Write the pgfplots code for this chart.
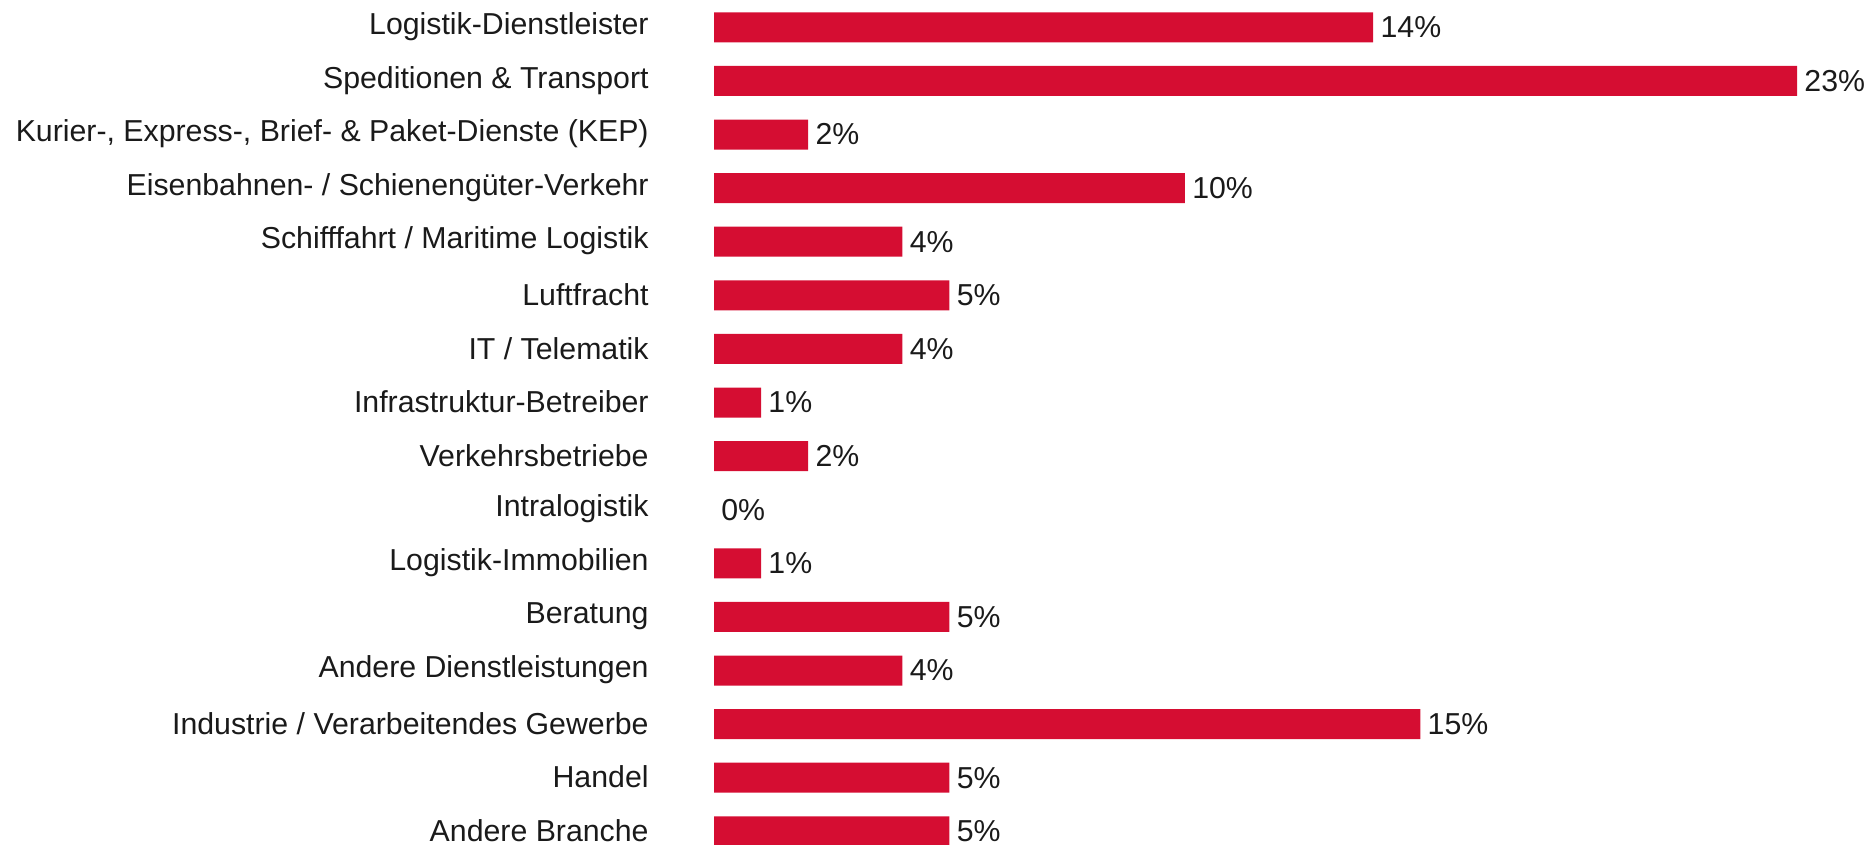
\documentclass[border=0pt]{standalone}
\usepackage{pgfplots}
\pgfplotsset{compat=1.18}
\usepackage{fontspec}
\setmainfont{Liberation Sans}
\definecolor{barred}{HTML}{D50D32}
\definecolor{txt}{HTML}{1A1A1A}
\begin{document}
\begin{tikzpicture}
\useasboundingbox (0,0) rectangle (932.5bp,-422.5bp);
\clip (0,0) rectangle (932.5bp,-422.5bp);
\begin{axis}[
  at={(357bp,-0.25bp)}, anchor=north west,
  scale only axis,
  width=541.5bp, height=428.8bp,
  xmin=0, xmax=23,
  ymin=-0.5, ymax=15.5,
  y dir=reverse,
  xbar, bar width=15bp,
  axis line style={draw=none},
  hide x axis,
  ytick={0,...,15},
  yticklabels={Logistik-Dienstleister, Speditionen \& Transport, {Kurier-, Express-, Brief- \& Paket-Dienste (KEP)}, Eisenbahnen- / Schienengüter-Verkehr, Schifffahrt / Maritime Logistik, Luftfracht, IT / Telematik, Infrastruktur-Betreiber, Verkehrsbetriebe, Intralogistik, Logistik-Immobilien, Beratung, Andere Dienstleistungen, Industrie / Verarbeitendes Gewerbe, Handel, Andere Branche},
  major tick length=0pt,
  /pgf/number format/assume math mode=true,
  yticklabel style={font=\fontsize{15.2}{17}\selectfont, text=txt, inner sep=0pt, xshift=-32.5bp, yshift=0.3bp},
  nodes near coords={\pgfmathprintnumber{\pgfplotspointmeta}\%},
  nodes near coords style={font=\fontsize{15.2}{17}\selectfont, text=txt, anchor=west, inner sep=0pt, xshift=3.5bp},
  point meta=x,
  clip=false,
]
\addplot[fill=barred, draw=none, unbounded coords=discard,
  x filter/.expression={x==0 ? nan : x}] coordinates {
(14,0) (23,1) (2,2) (10,3) (4,4) (5,5) (4,6) (1,7) (2,8) (0,9) (1,10) (5,11) (4,12) (15,13) (5,14) (5,15)
};
\addplot[only marks, mark=none, draw=none] coordinates {(0,9)};
\end{axis}
\end{tikzpicture}
\end{document}
